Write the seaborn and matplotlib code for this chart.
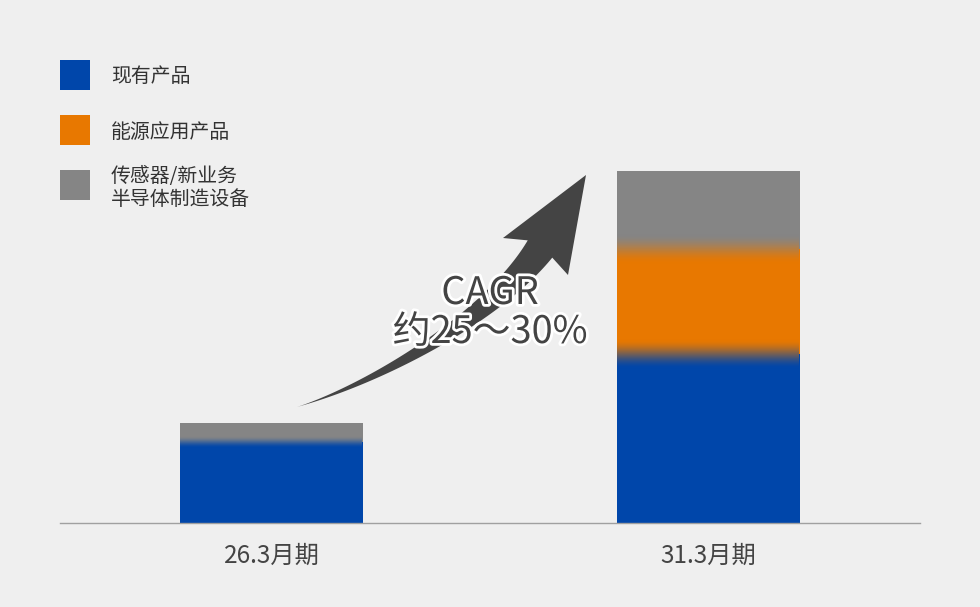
import matplotlib
matplotlib.use("Agg")
import matplotlib.pyplot as plt
import matplotlib.patheffects as pe
from matplotlib.colors import to_rgb
from matplotlib.patches import Polygon, Rectangle
import numpy as np
import pandas as pd
import seaborn as sns

# data (segment heights)
periods = ["26.3月期", "31.3月期"]
existing = [81, 169]
energy = [0, 105]
sensor = [19, 78]
series_names = ["现有产品", "能源应用产品", "传感器/新业务\n半导体制造设备"]
series_colors = ["#0046aa", "#e87800", "#858585"]
cagr_label = "CAGR\n约25～30%"

BG = "#efefef"
W, H = 980, 607
FONT = ["Noto Sans CJK SC", "DejaVu Sans"]

sns.set_theme(style="white")
plt.rcParams["font.family"] = FONT

fig = plt.figure(figsize=(W / 100, H / 100), dpi=100, facecolor=BG)
ax = fig.add_axes([60 / W, 84 / H, 860 / W, 523 / H])
ax.set_facecolor(BG)

df = pd.DataFrame({"period": periods, "existing": existing,
                   "energy": energy, "sensor": sensor})
df["mid"] = df["existing"] + df["energy"]
df["total"] = df["mid"] + df["sensor"]

# stacked bars: draw cumulative totals from the top down
for col, color in [("total", series_colors[2]), ("mid", series_colors[1]),
                   ("existing", series_colors[0])]:
    sns.barplot(data=df, x="period", y=col, color=color, width=0.419,
                saturation=1, errorbar=None, ax=ax, zorder=2,
                edgecolor="none", linewidth=0)

ax.set_xlim(-0.484, 1.484)
ax.set_ylim(0, 523)

# soft blends between stacked segments
px_x = np.diff(ax.get_xlim())[0] / 860  # one pixel in x data units
for i in range(len(periods)):
    bar = ax.patches[i]
    x0, x1 = bar.get_x(), bar.get_x() + bar.get_width() - 1.2 * px_x
    segs = [(v, c) for v, c in zip([existing[i], energy[i], sensor[i]],
                                   series_colors) if v > 0]
    base = 0
    for (v_lo, c_lo), (v_hi, c_hi) in zip(segs[:-1], segs[1:]):
        base_b = base + v_lo
        h = min(0.3 * min(v_lo, v_hi), 15)
        t = np.linspace(0, 1, 64)[:, None]
        t = t * t * (3 - 2 * t)  # smoothstep
        img = (1 - t) * np.array(to_rgb(c_lo)) + t * np.array(to_rgb(c_hi))
        ax.imshow(img[:, None, :], extent=[x0, x1, base_b - h, base_b + h],
                  origin="lower", aspect="auto", interpolation="bilinear",
                  zorder=3)
        base = base_b

ax.set_xlim(-0.484, 1.484)
ax.set_ylim(0, 523)
ax.set_xlabel("")
ax.set_ylabel("")
ax.set_yticks([])
for s in ("top", "left", "right"):
    ax.spines[s].set_visible(False)
ax.spines["bottom"].set_color("#a0a0a0")
ax.spines["bottom"].set_linewidth(1)
ax.tick_params(axis="x", length=0, pad=14, labelsize=17.5, labelcolor="#444444")


def to_ax(px, py):
    return (px - 60) / 860, (523 - py) / 523


# curved growth arrow (pixel layout -> axes fraction)
P = np.array([[297, 407], [370, 385], [490, 320], [540, 249]], float)
t = np.linspace(0, 1, 80)[:, None]
curve = ((1 - t) ** 3 * P[0] + 3 * (1 - t) ** 2 * t * P[1]
         + 3 * (1 - t) * t ** 2 * P[2] + t ** 3 * P[3])
deriv = (3 * (1 - t) ** 2 * (P[1] - P[0]) + 6 * (1 - t) * t * (P[2] - P[1])
         + 3 * t ** 2 * (P[3] - P[2]))
normal = np.column_stack([-deriv[:, 1], deriv[:, 0]])
normal /= np.linalg.norm(normal, axis=1)[:, None]
half = 15 * t ** 1.3
upper = curve + normal * half
lower = curve - normal * half
head = np.array([[503, 238], [586, 175], [568, 275]], float)
side_a, side_b = (upper, lower) if upper[-1, 0] < lower[-1, 0] else (lower, upper)
pts = np.vstack([side_a, head, side_b[::-1]])
ax.add_patch(Polygon([to_ax(x, y) for x, y in pts], closed=True,
                     transform=ax.transAxes, facecolor="#444444",
                     edgecolor="none", zorder=4, clip_on=False))

ax.text(*to_ax(490, 313), cagr_label, transform=ax.transAxes, ha="center",
        va="center", fontsize=27.3, color="#444444", linespacing=1.0,
        family=FONT, zorder=5,
        path_effects=[pe.withStroke(linewidth=4, foreground="white")])

# legend
legend_rows = [77, 132, 188]
swatch_tops = [60, 115, 170]
for name, color, yc, top in zip(series_names, series_colors, legend_rows,
                                swatch_tops):
    fig.patches.append(Rectangle((60 / W, 1 - (top + 30) / H), 30 / W, 30 / H,
                                 transform=fig.transFigure, facecolor=color,
                                 edgecolor="none"))
    fig.text(111 / W, 1 - yc / H, name, ha="left", va="center", fontsize=14.3,
             color="#333333", linespacing=1.15, family=FONT)

fig.savefig("out.png", dpi=100, facecolor=BG)
